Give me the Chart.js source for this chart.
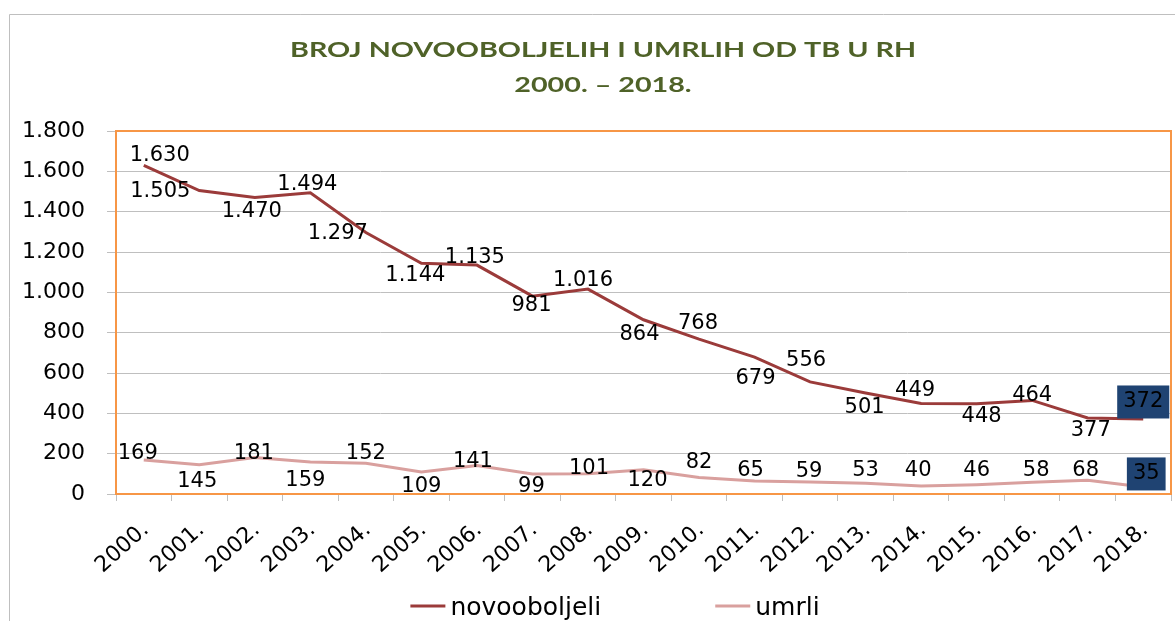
<!DOCTYPE html>
<html>
<head>
<meta charset="utf-8">
<script src="https://cdn.jsdelivr.net/npm/chart.js@4/dist/chart.umd.min.js"></script>
<style>
    html, body { margin: 0; padding: 0; background: #fff; }
    #wrap { width: 1175px; height: 621px; }
</style>
</head>
<body>
<div id="wrap"><canvas id="tbChart" width="1175" height="621"></canvas></div>
<script>
// ----------- podaci -----------
const godine = ['2000.', '2001.', '2002.', '2003.', '2004.', '2005.', '2006.', '2007.', '2008.', '2009.',
                '2010.', '2011.', '2012.', '2013.', '2014.', '2015.', '2016.', '2017.', '2018.'];
const novooboljeli = [1630, 1505, 1470, 1494, 1297, 1144, 1135, 981, 1016, 864, 768, 679, 556, 501, 449, 448, 464, 377, 372];
const umrli = [169, 145, 181, 159, 152, 109, 141, 99, 101, 120, 82, 65, 59, 53, 40, 46, 58, 68, 35];
const yOznake = [0, 200, 400, 600, 800, 1000, 1200, 1400, 1600, 1800];
const naslov = ['BROJ NOVOOBOLJELIH I UMRLIH OD TB U RH', '2000. – 2018.'];

// pomak oznake od točke (dx, dy) - kao u originalu
const pomakNovo = [[16,-10],[-39,1],[-3,14],[-3,-8],[-28,1],[-6,12],[-2,-8],[-1,9],[-5,-9],[-4,15],
                   [-1,-16],[1,21],[-4,-21],[-1,15],[-6,-13],[5,13],[0,-5],[3,13],[0,-17]];
const pomakUmrli = [[-6,-6],[-2,17],[-1,-4],[-5,19],[0,-10],[0,15],[-4,-4],[-1,13],[1,-5],[4,11],
                    [0,-15],[-4,-10],[-1,-11],[0,-13],[-3,-15],[0,-14],[4,-12],[-2,-10],[3,-13]];

const bojaNovo = '#9B3B3A';
const bojaUmrli = '#D9A09E';

// 1630 -> "1.630"
function formatBroj(v) {
    return String(v).replace(/\B(?=(\d{3})+(?!\d))/g, '.');
}

// ----------- pozadina i okvir -----------
const okvir = {
    id: 'okvir',
    beforeDraw(chart) {
        const ctx = chart.ctx;
        ctx.save();
        ctx.fillStyle = '#fff';
        ctx.fillRect(0, 0, chart.width, chart.height);
        ctx.strokeStyle = '#BFBFBF';
        ctx.lineWidth = 1;
        ctx.beginPath();
        ctx.moveTo(9.5, chart.height);
        ctx.lineTo(9.5, 14.5);
        ctx.lineTo(chart.width, 14.5);
        ctx.stroke();
        ctx.restore();
    },
    beforeDatasetsDraw(chart) {
        // narančasti okvir oko područja crtanja
        const a = chart.chartArea;
        const ctx = chart.ctx;
        ctx.save();
        ctx.strokeStyle = '#F79646';
        ctx.lineWidth = 2;
        ctx.strokeRect(a.left, a.top, a.right - a.left, a.bottom - a.top);
        ctx.restore();
    }
};

// ----------- naslov (rastegnut vodoravno kao u Excelu) -----------
const naslovPlugin = {
    id: 'naslovPlugin',
    afterDraw(chart) {
        const ctx = chart.ctx;
        ctx.save();
        ctx.font = 'bold 21px Lato, "DejaVu Sans", sans-serif';
        ctx.fillStyle = '#4F6228';
        ctx.textAlign = 'center';
        ctx.textBaseline = 'alphabetic';
        const sx = 626 / ctx.measureText(naslov[0]).width;
        [57, 92].forEach((y, k) => {
            ctx.save();
            ctx.translate(603, y);
            ctx.scale(sx, 1);
            ctx.fillText(naslov[k], 0, 0);
            ctx.restore();
        });
        ctx.restore();
    }
};

// ----------- oznake vrijednosti -----------
const oznake = {
    id: 'oznake',
    afterDatasetsDraw(chart) {
        const ctx = chart.ctx;
        ctx.save();
        ctx.font = '21px "DejaVu Sans", sans-serif';
        ctx.textAlign = 'center';
        ctx.textBaseline = 'middle';
        chart.data.datasets.forEach((ds, i) => {
            const meta = chart.getDatasetMeta(i);
            meta.data.forEach((pt, j) => {
                const tekst = formatBroj(ds.data[j]);
                const tx = pt.x + ds.pomaci[j][0];
                const ty = pt.y + ds.pomaci[j][1];
                if (j === ds.data.length - 1) {
                    // zadnja godina ima tamnoplavu podlogu
                    const w = ctx.measureText(tekst).width;
                    ctx.fillStyle = '#1F4372';
                    ctx.fillRect(tx - w / 2 - 6, ty - 16.5, w + 12, 33);
                }
                ctx.fillStyle = '#000';
                ctx.fillText(tekst, tx, ty);
            });
        });
        ctx.restore();
    }
};

// ----------- legenda -----------
const legenda = {
    id: 'legenda',
    afterDraw(chart) {
        const ctx = chart.ctx;
        ctx.save();
        ctx.font = '25px "DejaVu Sans", sans-serif';
        const stavke = chart.data.datasets.map(d => ({
            tekst: d.label, boja: d.borderColor, w: ctx.measureText(d.label).width
        }));
        const linija = 35, razmak = 5, medju = 114;
        const ukupno = stavke.reduce((s, it) => s + linija + razmak + it.w, 0) + medju * (stavke.length - 1);
        let x = 615 - ukupno / 2;
        stavke.forEach(it => {
            ctx.strokeStyle = it.boja;
            ctx.lineWidth = 3;
            ctx.beginPath();
            ctx.moveTo(x, 606);
            ctx.lineTo(x + linija, 606);
            ctx.stroke();
            ctx.fillStyle = '#000';
            ctx.textAlign = 'left';
            ctx.textBaseline = 'alphabetic';
            ctx.fillText(it.tekst, x + linija + razmak, 615);
            x += linija + razmak + it.w + medju;
        });
        ctx.restore();
    }
};

const ctx = document.getElementById('tbChart').getContext('2d');

new Chart(ctx, {
    type: 'line',
    data: {
        labels: godine,
        datasets: [
            { label: 'novooboljeli', data: novooboljeli, borderColor: bojaNovo, borderWidth: 3,
              pointRadius: 0, tension: 0, fill: false, pomaci: pomakNovo },
            { label: 'umrli', data: umrli, borderColor: bojaUmrli, borderWidth: 3,
              pointRadius: 0, tension: 0, fill: false, pomaci: pomakUmrli }
        ]
    },
    options: {
        responsive: false,
        animation: false,
        devicePixelRatio: 1,
        layout: { padding: { top: 131, right: 4, left: 0, bottom: 0 } },
        plugins: {
            legend: { display: false },
            title: { display: false },
            tooltip: { enabled: false }
        },
        scales: {
            x: {
                offset: true,
                grid: { drawOnChartArea: false, drawTicks: true, tickLength: 7, offset: true, color: '#BFBFBF' },
                border: { display: true, color: '#F79646', width: 2 },
                ticks: {
                    autoSkip: false, minRotation: 42, maxRotation: 42,
                    padding: 16, labelOffset: 2,
                    color: '#000', font: { family: 'DejaVu Sans', size: 22 }
                },
                afterFit: s => {
                    s.height = 127;
                    // bez dodatnog razmaka koji rotirane oznake traže sa strane
                    s.paddingLeft = 0;
                    s.paddingRight = 0;
                }
            },
            y: {
                min: 0, max: 1800,
                afterBuildTicks: s => { s.ticks = yOznake.map(v => ({ value: v })); },
                grid: { color: '#BFBFBF', lineWidth: 1, tickLength: 9, drawTicks: true },
                border: { display: true, color: '#F79646', width: 2 },
                ticks: {
                    padding: 22, color: '#000',
                    font: { family: 'DejaVu Sans', size: 22 },
                    callback: v => formatBroj(v)
                },
                afterFit: s => { s.width = 116; }
            }
        }
    },
    plugins: [okvir, naslovPlugin, oznake, legenda]
});
</script>
</body>
</html>
